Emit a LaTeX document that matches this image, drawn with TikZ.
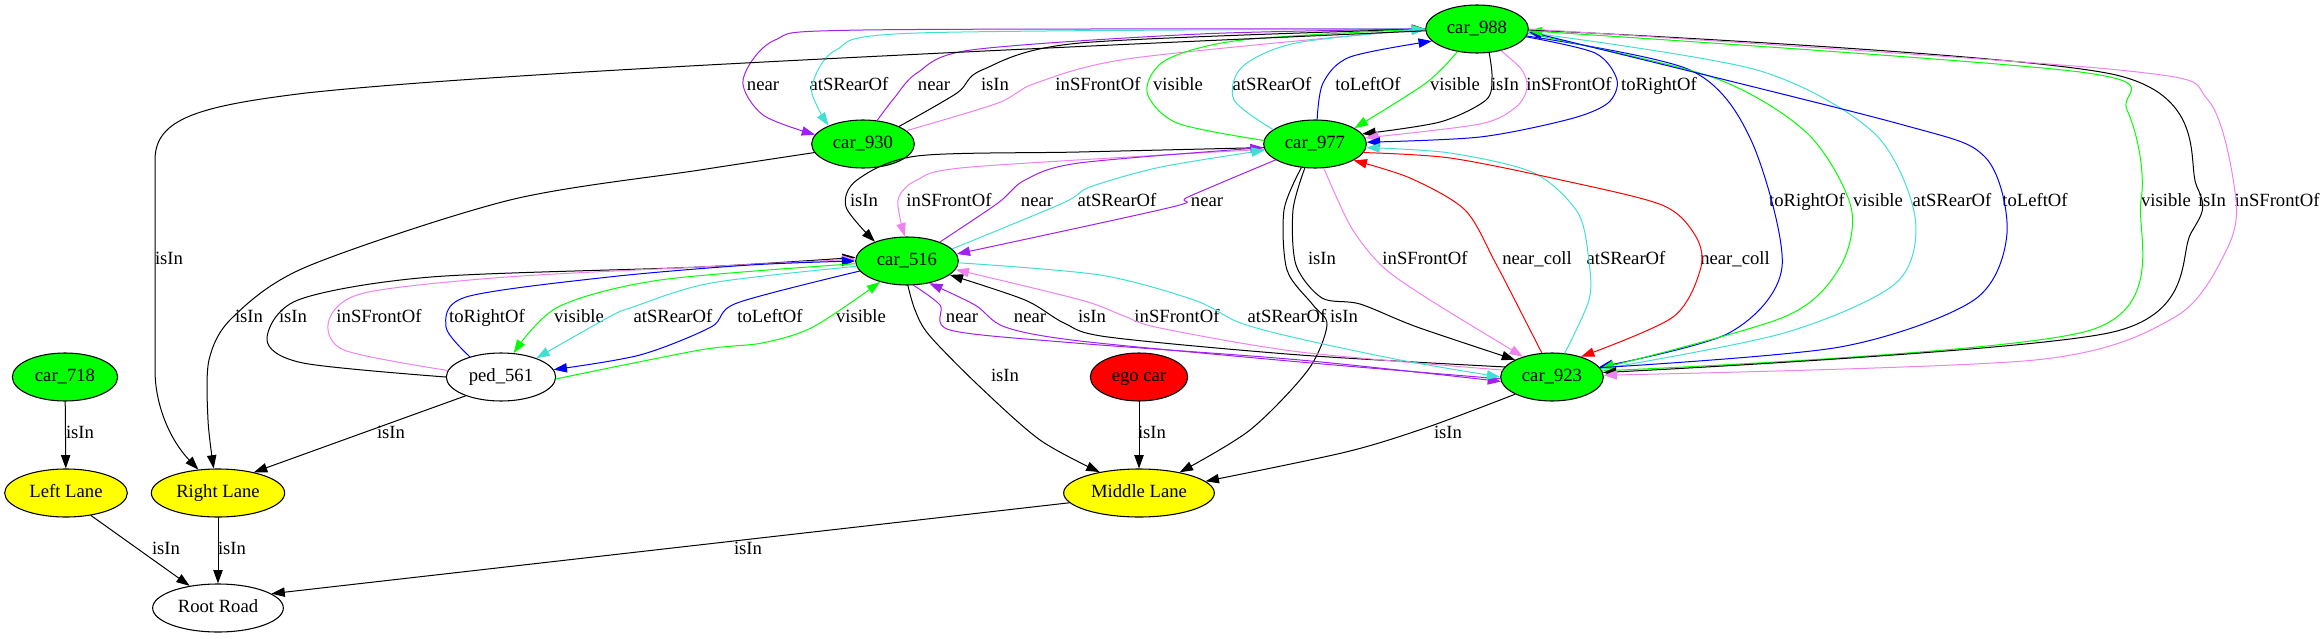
\documentclass[tikz,border=0pt]{standalone}
\usepackage{fontspec}
\setmainfont{Liberation Serif}
\usetikzlibrary{shapes.geometric,arrows.meta}
\definecolor{gvgreen}{HTML}{00FF00}
\definecolor{gvyellow}{HTML}{FFFF00}
\definecolor{gvred}{HTML}{FF0000}
\definecolor{gvblue}{HTML}{0000FF}
\definecolor{gvpurple}{HTML}{A020F0}
\definecolor{gvturq}{HTML}{40E0D0}
\definecolor{gvviolet}{HTML}{EE82EE}

\begin{document}
\begin{tikzpicture}[
	x=0.75pt, y=-0.75pt,
	line cap=round, line join=round,
	obj/.style={ellipse, draw, line width=0.8pt, minimum height=36pt, inner sep=0pt,
		text height=9.5pt, text depth=3pt, font=\fontsize{14}{17}\selectfont},
	car/.style={obj, fill=gvgreen, minimum width=77pt},
	lane/.style={obj, fill=gvyellow},
	lbl/.style={inner sep=0pt, text height=9.5pt, text depth=3pt, font=\fontsize{14}{17}\selectfont},
	rel/.style={line width=0.75pt, -{Triangle[length=10pt,width=7pt]}},
	isinrel/.style={rel, black},
	nearrel/.style={rel, gvpurple},
	rearrel/.style={rel, gvturq},
	frontrel/.style={rel, gvviolet},
	visrel/.style={rel, gvgreen},
	leftrel/.style={rel, gvblue},
	rightrel/.style={rel, gvblue},
	collrel/.style={rel, gvred}
]
	\useasboundingbox (0,0) rectangle (2324,639);

	% objects
	\node[car] (car988) at (1477,29) {car\_988};
	\node[car] (car930) at (863,144) {car\_930};
	\node[car] (car977) at (1315,144) {car\_977};
	\node[car] (car516) at (907,261) {car\_516};
	\node[car] (car923) at (1552,377) {car\_923};
	\node[car, minimum width=79pt] (car718) at (65,377) {car\_718};
	\node[obj, minimum width=82pt] (ped561) at (501,377) {ped\_561};
	\node[obj, fill=gvred, minimum width=73pt] (ego) at (1139,377) {ego car};
	\node[lane, minimum width=92pt] (leftlane) at (66,493) {Left Lane};
	\node[lane, minimum width=100pt] (rightlane) at (218,493) {Right Lane};
	\node[lane, minimum width=113pt] (midlane) at (1139,493) {Middle Lane};
	\node[obj, minimum width=98pt] (road) at (218,608) {Root Road};

	% edge labels, row by row
	\foreach \x/\t [count=\i] in {763/near, 849/atSRearOf, 934/near, 995/isIn, 1098/inSFrontOf,
		1178/visible, 1272/atSRearOf, 1368/toLeftOf, 1455/visible, 1505/isIn, 1569/inSFrontOf, 1659/toRightOf}
		\node[lbl] (ta\i) at (\x,86) {\t};
	\foreach \x/\t [count=\i] in {864/isIn, 949/inSFrontOf, 1037/near, 1117/atSRearOf, 1207/near,
		1807/toRightOf, 1878/visible, 1952/atSRearOf, 2035/toLeftOf, 2166/visible, 2212/isIn, 2277/inSFrontOf}
		\node[lbl] (tb\i) at (\x,202) {\t};
	\foreach \x/\t [count=\i] in {169/isIn, 1322/isIn, 1425/inSFrontOf, 1537/near\_coll, 1626/atSRearOf, 1735/near\_coll}
		\node[lbl] (tc\i) at (\x,260) {\t};
	\foreach \x/\t [count=\i] in {249/isIn, 293/isIn, 379/inSFrontOf, 487/toRightOf, 579/visible, 673/atSRearOf,
		770/toLeftOf, 861/visible, 962/near, 1030/near, 1092/isIn, 1177/inSFrontOf, 1287/atSRearOf, 1344/isIn}
		\node[lbl] (td\i) at (\x,318) {\t};
	\foreach \x/\y [count=\i] in {1005/377, 80/434, 391/434, 1152/434, 1448/434, 166/550, 232/550, 748/550}
		\node[lbl] (te\i) at (\x,\y) {isIn};

	% car_988 and car_930
	\draw[nearrel] plot[smooth] coordinates {(car988.180) (863,30) (775,40) (743,80) (763,115) (car930.169)};
	\draw[rearrel] plot[smooth] coordinates {(car988.180) (917,33) (836,50) (812,85) (818,108) (car930.152)};
	\draw[nearrel] plot[smooth] coordinates {(car930.59) (895,97) (917,73) (971,50) (1200,34) (car988.180)};
	\draw[isinrel] plot[smooth] coordinates {(car930.26) (957,93) (982,70) (1080,43) (car988.180)};
	\draw[frontrel] plot[smooth] coordinates {(car930.17) (998,103) (1036,83) (1134,58) (car988.180)};
	% car_977 and car_988
	\draw[visrel] plot[smooth] coordinates {(car977.176) (1177,123) (1147,92) (1166,60) (1242,40) (car988.180)};
	\draw[rearrel] plot[smooth] coordinates {(car977.161) (1234,100) (1242,67) (1296,43) (car988.180)};
	\draw[leftrel] plot[smooth] coordinates {(car977.85) (1323,83) (1350,57) (car988.195)};
	\draw[visrel] plot[smooth] coordinates {(car988.229) (1426,83) (car977.22)};
	\draw[isinrel] plot[smooth] coordinates {(car988.297) (1492,77) (1486,100) (1440,122) (car977.12)};
	\draw[frontrel] plot[smooth] coordinates {(car988.318) (1522,70) (1527,88) (1516,107) (1480,124) (car977.7)};
	\draw[rightrel] plot[smooth] coordinates {(car988.351) (1595,53) (1617,80) (1608,103) (1570,119) (1480,137) (car977.2)};
	% car_977 and car_516
	\draw[isinrel] plot[smooth] coordinates {(car977.184) (1079,152) (917,156) (857,180) (846,207) (car516.149)};
	\draw[frontrel] plot[smooth] coordinates {(car977.186) (971,167) (917,180) (898,200) (car516.95)};
	\draw[nearrel] plot[smooth] coordinates {(car516.30) (998,203) (1025,180) (1079,163) (car977.184)};
	\draw[rearrel] plot[smooth] coordinates {(car516.15) (1063,203) (1090,187) (1161,167) (car977.187)};
	\draw[nearrel] plot[smooth] coordinates {(car977.202) (1188,197) (1172,207) (car516.8)};
	% car_988 and car_923
	\draw[rightrel] plot[smooth] coordinates {(car988.352) (1690,70) (1751,140) (1782,267) (1729,333) (car923.12)};
	\draw[visrel] plot[smooth] coordinates {(car988.355) (1712,77) (1807,133) (1851,207) (1840,267) (1784,317) (car923.10)};
	\draw[rearrel] plot[smooth] coordinates {(car923.9) (1784,333) (1896,283) (1915,217) (1874,133) (1757,70) (car988.356)};
	\draw[leftrel] plot[smooth] coordinates {(car923.11) (1840,347) (1974,300) (2007,233) (1985,157) (1896,123) (car988.357)};
	\draw[visrel] plot[smooth] coordinates {(car923.7) (2091,330) (2141,200) (2127,110) (2080,72) (car988.358)};
	\draw[isinrel] plot[smooth] coordinates {(car988.359) (2116,75) (2197,187) (2191,233) (2113,332) (car923.5)};
	\draw[frontrel] plot[smooth] coordinates {(car988.0) (2119,70) (2208,100) (2236,200) (2225,253) (2175,317) (2035,360) (car923.2)};
	% car_977 and car_923
	\draw[isinrel] plot[smooth] coordinates {(car977.247) (1293,210) (1296,265) (1322,298) (1360,304) (1417,327) (car923.155)};
	\draw[frontrel] plot[smooth] coordinates {(car977.290) (1351,227) (1383,267) (1430,300) (car923.145)};
	\draw[collrel] plot[smooth] coordinates {(car923.113) (1525,320) (1495,262) (1465,210) (1410,178) (car977.337)};
	\draw[rearrel] plot[smooth] coordinates {(car923.62) (1589,300) (1589,262) (1578,213) (1534,173) (1450,153) (car977.356)};
	\draw[collrel] plot[smooth] coordinates {(car977.350) (1450,158) (1561,180) (1662,205) (1695,235) (1701,267) (1673,317) (car923.35)};
	% long ones down to the lanes
	\draw[isinrel] (car988.182) .. controls (1000,50) and (500,72) .. (306,93)
		.. controls (200,106) and (155,118) .. (155,160) -- (155,370)
		.. controls (155,405) and (170,440) .. (rightlane.130);
	\draw[isinrel] plot[smooth] coordinates {(car930.190) (700,170) (510,200) (306,267) (232,318) (209,360) (208,420) (rightlane.100)};
	\draw[isinrel] plot[smooth] coordinates {(car977.240) (1284,210) (1287,270) (1313,305) (1327,325) (1308,370) (1250,430) (midlane.27)};
	% car_516 and ped_561
	\draw[isinrel] plot[smooth] coordinates {(ped561.180) (303,363) (267,340) (298,300) (431,277) (700,267) (car516.176)};
	\draw[frontrel] plot[smooth] coordinates {(ped561.173) (344,350) (329,320) (364,293) (507,277) (720,266) (car516.178)};
	\draw[rightrel] plot[smooth] coordinates {(ped561.147) (446,327) (466,297) (609,277) (750,265) (car516.180)};
	\draw[visrel] plot[smooth] coordinates {(car516.183) (660,280) (558,307) (ped561.62)};
	\draw[rearrel] plot[smooth] coordinates {(car516.186) (711,283) (633,307) (609,317) (ped561.28)};
	\draw[leftrel] plot[smooth] coordinates {(car516.192) (737,303) (711,327) (640,355) (ped561.8)};
	\draw[visrel] plot[smooth] coordinates {(ped561.358) (700,350) (762,343) (813,327) (car516.218)};
	% car_516 and car_923
	\draw[nearrel] plot[smooth] coordinates {(car516.285) (940,305) (950,330) (1075,343) (1300,360) (car923.185)};
	\draw[nearrel] plot[smooth] coordinates {(car923.182) (1300,362) (1080,341) (1005,327) (975,305) (car516.315)};
	\draw[isinrel] plot[smooth] coordinates {(car923.168) (1300,355) (1108,337) (1064,323) (1025,300) (car516.342)};
	\draw[frontrel] plot[smooth] coordinates {(car923.172) (1300,352) (1160,328) (1124,316) (1081,300) (car516.350)};
	\draw[rearrel] plot[smooth] coordinates {(car516.358) (1100,275) (1194,300) (1238,322) (1292,337) (1400,360) (car923.180)};
	% lanes and road
	\draw[isinrel] plot[smooth] coordinates {(car516.272) (915,310) (929,335) (978,385) (1040,440) (midlane.152)};
	\draw[isinrel] plot[smooth] coordinates {(car923.205) (1428,427) (1346,452) (midlane.10)};
	\draw[isinrel] (ego) -- (midlane);
	\draw[isinrel] (car718) -- (leftlane);
	\draw[isinrel] (ped561.208) -- (rightlane.30);
	\draw[isinrel] (leftlane.318) -- (road.142);
	\draw[isinrel] (rightlane) -- (road);
	\draw[isinrel] (midlane.188) -- (road.15);
\end{tikzpicture}
\end{document}
